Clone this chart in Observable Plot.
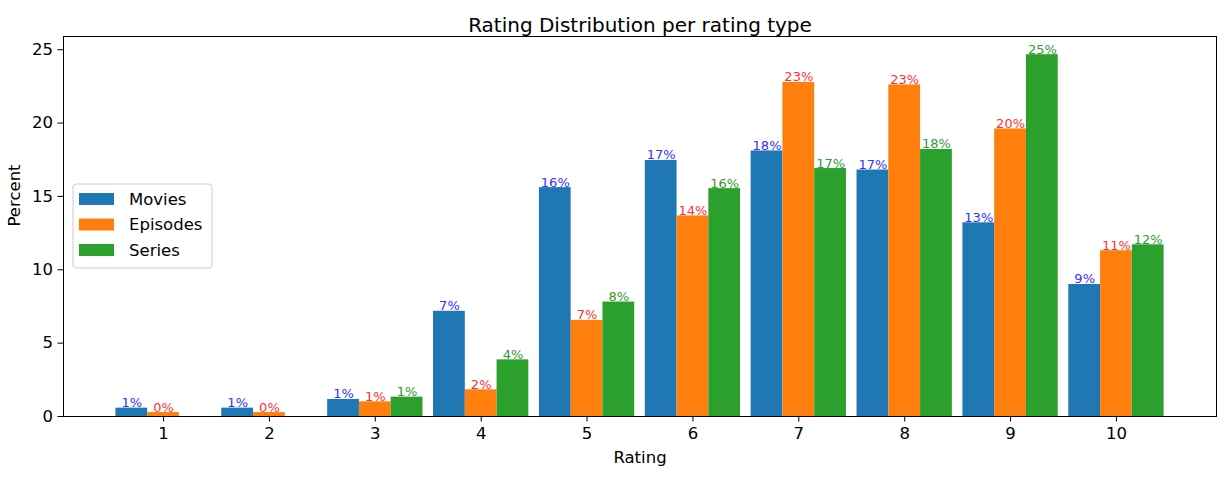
<!DOCTYPE html>
<html><head><meta charset="utf-8">
<script src="https://cdn.jsdelivr.net/npm/d3@7"></script>
<script src="https://cdn.jsdelivr.net/npm/@observablehq/plot@0.6"></script>
<style>body{margin:0;background:#fff;} #chart{width:1229px;height:480px;}</style>
</head><body><div id="chart"></div>
<script>
const ratings = [1, 2, 3, 4, 5, 6, 7, 8, 9, 10];
const seriesNames = ["Movies", "Episodes", "Series"];
const movies   = [0.57, 0.57, 1.16, 7.17, 15.6, 17.45, 18.1, 16.8, 13.2, 9.0];
const episodes = [0.27, 0.27, 1.0, 1.82, 6.55, 13.67, 22.77, 22.6, 19.6, 11.3];
const series   = [null, null, 1.32, 3.86, 7.8, 15.53, 16.9, 18.2, 24.66, 11.7];
const yTicks = [0, 5, 10, 15, 20, 25];
const barColors = ["#1f77b4", "#ff7f0e", "#2ca02c"];
const labelColors = ["#3333ff", "#ff3333", "#339933"];

const rows = [];
[movies, episodes, series].forEach((vals, si) =>
  vals.forEach((v, i) => { if (v != null) rows.push({rating: ratings[i], type: seriesNames[si], si, value: v}); }));

const W = 0.3;
const fmt = d3.format(".0f");
const plot = Plot.plot({
  width: 1229, height: 480,
  marginLeft: 63, marginRight: 13, marginTop: 36, marginBottom: 64,
  style: {fontFamily: "DejaVu Sans", background: "white", color: "black"},
  x: {type: "linear", domain: [0.055, 10.945]},
  y: {domain: [0, 25.9]},
  marks: [
    Plot.rect(rows, {
      x1: d => d.rating + (d.si - 1) * W - W / 2,
      x2: d => d.rating + (d.si - 1) * W + W / 2,
      y1: 0, y2: "value",
      fill: d => barColors[d.si]
    }),
    Plot.text(rows, {
      x: d => d.rating + (d.si - 1) * W, y: "value",
      text: d => fmt(d.value) + "%",
      fill: d => labelColors[d.si],
      lineAnchor: "bottom", dy: -1, fontSize: 13
    }),
    Plot.frame({stroke: "black"}),
    Plot.axisX({ticks: ratings, tickFormat: d => String(d), tickSize: 5.5, tickPadding: 5, fontSize: 16.5, label: null}),
    Plot.axisY({ticks: yTicks, tickSize: 5.5, tickPadding: 5, fontSize: 16.5, label: null}),
    Plot.text(["Rating Distribution per rating type"], {frameAnchor: "top", dy: -19, fontSize: 20, fill: "black"}),
    Plot.text(["Rating"], {frameAnchor: "bottom", dy: 46, fontSize: 16.5, fill: "black"}),
    Plot.text(["Percent"], {frameAnchor: "left", dx: -49, rotate: -90, fontSize: 16.5, fill: "black"})
  ]
});

const svg = d3.select(plot);
const lg = svg.append("g").attr("font-family", "DejaVu Sans").attr("font-size", 16.5).attr("text-anchor", "start");
lg.append("rect").attr("x", 73).attr("y", 184).attr("width", 139).attr("height", 84)
  .attr("rx", 3).attr("fill", "white").attr("fill-opacity", 0.8).attr("stroke", "#cccccc");
seriesNames.forEach((name, i) => {
  const cy = 199 + i * 25.5;
  lg.append("rect").attr("x", 79).attr("y", cy - 6).attr("width", 35).attr("height", 12).attr("fill", barColors[i]);
  lg.append("text").attr("x", 129).attr("y", cy).attr("dy", "0.35em").attr("fill", "black").text(name);
});

document.getElementById("chart").appendChild(plot);
</script>
</body></html>
